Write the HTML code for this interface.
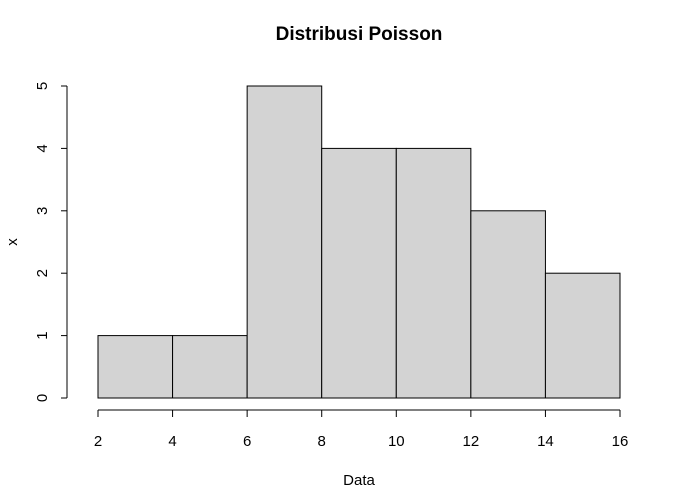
<!DOCTYPE html>
<html><head><meta charset="utf-8"><style>
body{margin:0;background:#fff}
svg{display:block;font-family:"Liberation Sans",Arial,sans-serif}
</style></head><body>
<svg id="chart" width="680" height="501">
<text x="359" y="40" text-anchor="middle" font-size="19" font-weight="bold">Distribusi Poisson</text>
<text x="359" y="485" text-anchor="middle" font-size="15">Data</text>
<text x="17" y="242" text-anchor="middle" font-size="15" transform="rotate(-90 17 242)">x</text>
<g id="bars"></g><g id="xaxis"></g><g id="yaxis"></g>
</svg>
<script>
const breaks=[2,4,6,8,10,12,14,16];
const counts=[1,1,5,4,4,3,2];
const xTicks=[2,4,6,8,10,12,14,16];
const yTicks=[0,1,2,3,4,5];
const NS="http://www.w3.org/2000/svg";
const xs=v=>98+(v-2)*(522/14);
const ys=v=>398-v*62.4;
function mk(tag,attrs,parent){const e=document.createElementNS(NS,tag);for(const k in attrs)e.setAttribute(k,attrs[k]);parent.appendChild(e);return e;}
const gb=document.getElementById('bars');
counts.forEach((c,i)=>{
 const r=mk('rect',{x:xs(breaks[i]),y:ys(c),width:xs(breaks[i+1])-xs(breaks[i]),height:ys(0)-ys(c),fill:'#d3d3d3',stroke:'#000','stroke-width':1},gb);
 
 
});
const gx=document.getElementById('xaxis');


mk('line',{x1:xs(xTicks[0]),x2:xs(xTicks[xTicks.length-1]),y1:410,y2:410,stroke:'#000'},gx);
xTicks.forEach(t=>{
 mk('line',{x1:xs(t),x2:xs(t),y1:410,y2:417,stroke:'#000'},gx);
 const tx=mk('text',{x:xs(t),y:446,'text-anchor':'middle','font-size':15},gx);
 tx.textContent=t;
 
 
});
const gy=document.getElementById('yaxis');


mk('line',{x1:67,x2:67,y1:ys(yTicks[0]),y2:ys(yTicks[yTicks.length-1]),stroke:'#000'},gy);
yTicks.forEach(t=>{
 mk('line',{x1:61,x2:67,y1:ys(t),y2:ys(t),stroke:'#000'},gy);
 const tx=mk('text',{x:47,y:ys(t),'text-anchor':'middle','font-size':15,transform:`rotate(-90 47 ${ys(t)})`},gy);
 tx.textContent=t;
 
 
});
</script>
</body></html>
